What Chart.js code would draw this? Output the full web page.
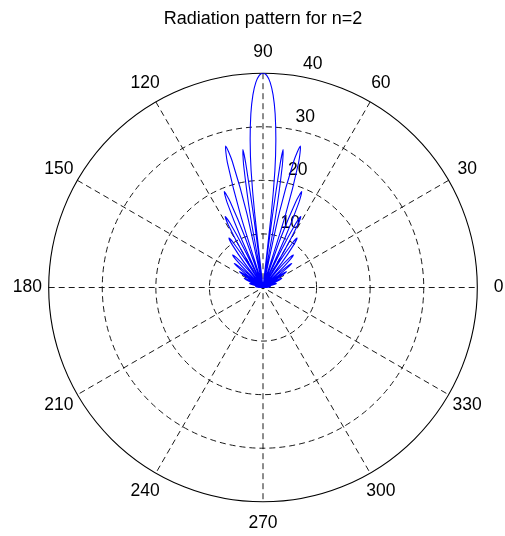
<!DOCTYPE html>
<html>
<head>
<meta charset="utf-8">
<script src="https://cdn.jsdelivr.net/npm/chart.js@4/dist/chart.umd.min.js"></script>
<style>
  html, body { margin: 0; padding: 0; background: #fff; }
  #wrap { width: 505px; height: 536px; }
</style>
</head>
<body>
<div id="wrap"><canvas id="c" width="505" height="536"></canvas></div>
<script>
// Pattern samples: angle in degrees (0 = right, counter-clockwise) and magnitude
const thetaDeg = [
  0, 2.1, 4.2, 6, 7.8, 9.9, 12,
  13.75, 15.5, 17, 18.35, 19.9, 21.5,
  23.1, 24.6, 26, 27.2, 28.6, 30,
  31.4, 32.8, 34, 34.9, 36, 37,
  38.05, 39.1, 40, 41.05, 42.3, 43.5,
  44.7, 45.95, 47, 48.35, 49.9, 51.5,
  52.9, 54.3, 55.5, 56.5, 57.6, 58.7,
  59.85, 61.0, 62, 62.9, 63.95, 65,
  66.05, 67.1, 68, 69.05, 70.3, 71.5,
  72.8, 74.1, 75.2, 76.3, 77.7, 79,
  80.0, 81.0, 81.7, 82.1, 82.5, 83,
  83.6, 84.2, 85, 86, 87, 88, 89, 90, 91, 92, 93, 94, 95, 95.8, 96.4, 97,
  97.5, 97.9, 98.3, 99.0, 100, 101,
  102.3, 103.7, 104.8, 105.9, 107.2, 108.5,
  109.7, 110.95, 112, 112.9, 113.95, 115,
  116.05, 117.1, 118, 119, 120.15, 121.3,
  122.4, 123.5, 124.5, 125.7, 127.1, 128.5,
  130.1, 131.65, 133, 134.05, 135.3, 136.5,
  137.7, 138.95, 140, 140.9, 141.95, 143,
  144, 145.1, 146, 147.2, 148.6, 150,
  151.4, 152.8, 154, 155.4, 156.9, 158.5,
  160.1, 161.65, 163, 164.5, 166.25, 168,
  170.1, 172.2, 174, 175.8, 177.9, 180
];
const rho = [
  0, 0.73, 1.25, 1.4, 1.25, 0.73, 0,
  1.35, 2.31, 2.6, 2.31, 1.35, 0,
  2.03, 3.47, 3.9, 3.47, 2.03, 0,
  2.76, 4.72, 5.3, 4.72, 2.76, 0,
  3.64, 6.23, 7.0, 6.23, 3.64, 0,
  4.32, 7.39, 8.3, 7.39, 4.32, 0,
  5.82, 9.97, 11.2, 9.97, 5.82, 0,
  7.8, 13.35, 15, 13.35, 7.8, 0,
  10.0, 17.2, 19.3, 17.2, 10.0, 0,
  14.2, 24.3, 27.3, 24.3, 14.2, 0,
  13.5, 23.1, 26, 23.1, 13.5, 0,
  14, 22, 27.5, 32.5, 36, 38.3, 39.6, 40, 39.6, 38.3, 36, 32.5, 27.5, 22, 14, 0,
  13.5, 23.1, 26, 23.1, 13.5, 0,
  14.2, 24.3, 27.3, 24.3, 14.2, 0,
  10.0, 17.2, 19.3, 17.2, 10.0, 0,
  7.8, 13.35, 15, 13.35, 7.8, 0,
  5.82, 9.97, 11.2, 9.97, 5.82, 0,
  4.32, 7.39, 8.3, 7.39, 4.32, 0,
  3.64, 6.23, 7.0, 6.23, 3.64, 0,
  2.76, 4.72, 5.3, 4.72, 2.76, 0,
  2.03, 3.47, 3.9, 3.47, 2.03, 0,
  1.35, 2.31, 2.6, 2.31, 1.35, 0,
  0.73, 1.25, 1.4, 1.25, 0.73, 0
];

// Angular tick labels (degrees) and radial rings
const angleTicks = [0, 30, 60, 90, 120, 150, 180, 210, 240, 270, 300, 330];
const spokeAngles = [30, 60, 90, 120, 150, 180];
const ringValues = [10, 20, 30, 40];
const rMax = 40;
const titleText = 'Radiation pattern for n=2';

const FONT = '"Liberation Sans", Arial, Helvetica, sans-serif';
const DEG = Math.PI / 180;

const points = thetaDeg.map((t, i) => ({
  x: rho[i] * Math.cos(t * DEG),
  y: rho[i] * Math.sin(t * DEG)
}));

// Polar grid: dashed spokes and rings, solid outer circle, angle and radius labels
const polarGrid = {
  id: 'polarGrid',
  beforeDatasetsDraw(chart) {
    const ctx = chart.ctx;
    const xs = chart.scales.x, ys = chart.scales.y;
    const px = (r, a) => xs.getPixelForValue(r * Math.cos(a * DEG));
    const py = (r, a) => ys.getPixelForValue(r * Math.sin(a * DEG));
    const cx = xs.getPixelForValue(0), cy = ys.getPixelForValue(0);
    const unitX = xs.getPixelForValue(1) - cx;
    const unitY = cy - ys.getPixelForValue(1);

    ctx.save();
    ctx.strokeStyle = '#000';
    ctx.lineWidth = 0.9;
    ctx.setLineDash([6, 4]);
    spokeAngles.forEach(a => {
      ctx.beginPath();
      ctx.moveTo(px(rMax, a), py(rMax, a));
      ctx.lineTo(px(rMax, a + 180), py(rMax, a + 180));
      ctx.stroke();
    });
    ringValues.slice(0, -1).forEach(v => {
      ctx.beginPath();
      ctx.ellipse(cx, cy, v * unitX, v * unitY, 0, 0, Math.PI * 2);
      ctx.stroke();
    });
    ctx.setLineDash([]);
    ctx.lineWidth = 1.1;
    ctx.beginPath();
    ctx.ellipse(cx, cy, rMax * unitX, rMax * unitY, 0, 0, Math.PI * 2);
    ctx.stroke();

    ctx.fillStyle = '#000';
    ctx.font = '17.5px ' + FONT;
    ctx.textAlign = 'center';
    ctx.textBaseline = 'middle';
    angleTicks.forEach(a => {
      ctx.fillText(String(a), px(rMax * 1.1, a), py(rMax * 1.1, a));
    });

    const rinc = ringValues[1] - ringValues[0];
    ctx.textAlign = 'left';
    ctx.textBaseline = 'bottom';
    ringValues.forEach(v => {
      const r = v + rinc / 20;
      ctx.fillText('  ' + v, px(r, 82), py(r, 82));
    });
    ctx.restore();
  }
};

new Chart(document.getElementById('c'), {
  type: 'scatter',
  data: {
    datasets: [{
      data: points,
      showLine: true,
      borderColor: '#0000ff',
      borderWidth: 1.1,
      pointRadius: 0,
      pointHoverRadius: 0,
      tension: 0.25,
      fill: false
    }]
  },
  options: {
    responsive: false,
    animation: false,
    events: [],
    layout: { padding: { left: 48.7, right: 27.7, top: 0, bottom: 34.2 } },
    scales: {
      x: { type: 'linear', min: -rMax, max: rMax, display: false },
      y: { type: 'linear', min: -rMax, max: rMax, display: false }
    },
    plugins: {
      legend: { display: false },
      tooltip: { enabled: false },
      title: {
        display: true,
        text: titleText,
        color: '#000',
        font: { family: FONT, size: 18, weight: 'normal' },
        padding: { top: 8.2, bottom: 43.4 }
      }
    }
  },
  plugins: [polarGrid]
});
</script>
</body>
</html>
